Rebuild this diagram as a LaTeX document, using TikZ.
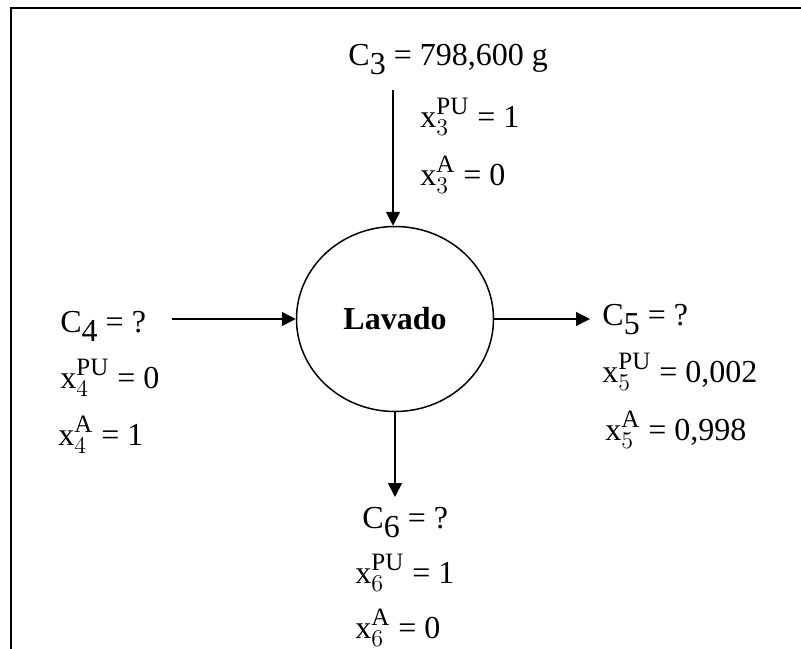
\documentclass[tikz,border=0pt]{standalone}
\usepackage{fontspec}
\setmainfont{Liberation Serif}
\usetikzlibrary{shapes.geometric, arrows.meta, positioning}
\DeclareMathSizes{16}{16}{12.5}{10}
\newcommand{\flowC}[1]{C\raisebox{-0.3em}{#1}}
\newcommand{\xcomp}[3]{$\mathrm{x}_{#1}^{\mathrm{#2}}$ = #3}

\begin{document}
\begin{tikzpicture}[
        x=0.5pt, y=-0.5pt,
        every node/.style={font=\fontsize{16}{19}\selectfont, inner sep=0pt},
        proc/.style={ellipse, draw, line width=0.75pt, minimum width=98.5pt, minimum height=92.5pt},
        lbl/.style={anchor=base west},
        arr/.style={-{Triangle[length=7pt, width=7pt]}, line width=0.75pt}
    ]
        \useasboundingbox (0,0) rectangle (801,648);
        \clip (0,0) rectangle (801,648);
        % frame, cut off at the right and bottom
        \draw[line width=1pt] (11,680) -- (11,8) -- (830,8);

        \node[proc] (lav) at (395,319) {\textbf{Lavado}};

        \node[lbl] (c3) at (348,65) {\flowC{3} = 798,600 g};
        \node[lbl] (x3pu) at (420,127) {\xcomp{3}{PU}{1}};
        \node[lbl] (x3a) at (420,185) {\xcomp{3}{A}{0}};

        \node[lbl] (c4) at (60,332) {\flowC{4} = ?};
        \node[lbl] (x4pu) at (60,388) {\xcomp{4}{PU}{0}};
        \node[lbl] (x4a) at (58,445) {\xcomp{4}{A}{1}};

        \node[lbl] (c5) at (602,325) {\flowC{5} = ?};
        \node[lbl] (x5pu) at (602,382) {\xcomp{5}{PU}{0,002}};
        \node[lbl] (x5a) at (605,440) {\xcomp{5}{A}{0,998}};

        \node[lbl] (c6) at (362,528) {\flowC{6} = ?};
        \node[lbl] (x6pu) at (355,583) {\xcomp{6}{PU}{1}};
        \node[lbl] (x6a) at (355,638) {\xcomp{6}{A}{0}};

        \coordinate (in3) at (393,90);
        \coordinate (in4) at (172,319);
        \coordinate (out5) at (590,319);
        \coordinate (out6) at (397,497);

        \draw[arr] (in3) -- (in3 |- lav.north);
        \draw[arr] (in4) -- (lav.west);
        \draw[arr] (lav.east) -- (out5);
        \draw[arr] (lav.south) -- (lav.south |- out6);
    \end{tikzpicture}
\end{document}
